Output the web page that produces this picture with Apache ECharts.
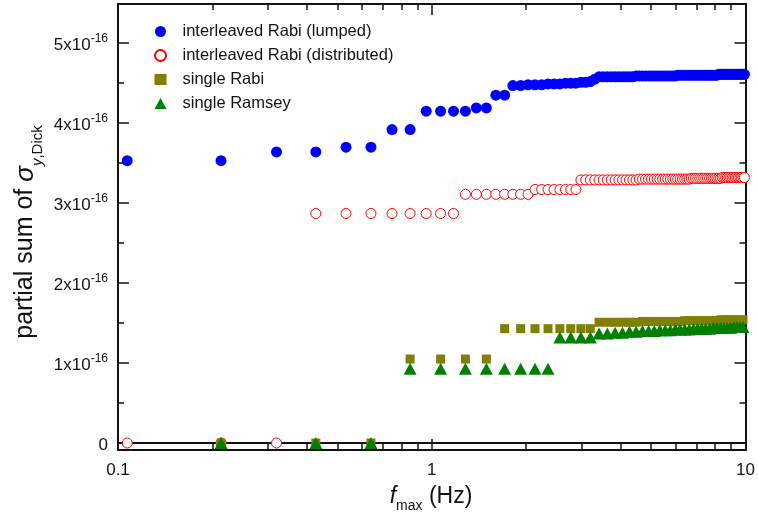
<!DOCTYPE html>
<html>
<head>
<meta charset="utf-8">
<script src="https://cdn.jsdelivr.net/npm/echarts@6/dist/echarts.min.js"></script>
<style>
  html, body { margin: 0; padding: 0; background: #ffffff; }
  #chart { width: 758px; height: 522px; }
</style>
</head>
<body>
<div id="chart"></div>
<script>
// Fourier frequencies (Hz) at which the partial sums are evaluated
const freqAll = [
  0.107, 0.213, 0.320, 0.427, 0.533, 0.640, 0.747, 0.853, 0.960, 1.067,
  1.173, 1.280, 1.387, 1.493, 1.600, 1.707, 1.813, 1.920, 2.027, 2.133,
  2.240, 2.347, 2.453, 2.560, 2.667, 2.773, 2.880, 2.987, 3.093, 3.200,
  3.307, 3.413, 3.520, 3.627, 3.733, 3.840, 3.947, 4.053, 4.160, 4.267,
  4.373, 4.480, 4.587, 4.693, 4.800, 4.907, 5.013, 5.120, 5.227, 5.333,
  5.440, 5.547, 5.653, 5.760, 5.867, 5.973, 6.080, 6.187, 6.293, 6.400,
  6.507, 6.613, 6.720, 6.827, 6.933, 7.040, 7.147, 7.253, 7.360, 7.467,
  7.573, 7.680, 7.787, 7.893, 8.000, 8.107, 8.213, 8.320, 8.427, 8.533,
  8.640, 8.747, 8.853, 8.960, 9.067, 9.173, 9.280, 9.387, 9.493, 9.600,
  9.707, 9.813, 9.920
];
// single-clock sequences only contribute at even harmonics
const freqEven = [
  0.213, 0.427, 0.640, 0.853, 1.067, 1.280, 1.493, 1.707, 1.920, 2.133,
  2.347, 2.560, 2.773, 2.987, 3.200, 3.413, 3.627, 3.840, 4.053, 4.267,
  4.480, 4.693, 4.907, 5.120, 5.333, 5.547, 5.760, 5.973, 6.187, 6.400,
  6.613, 6.827, 7.040, 7.253, 7.467, 7.680, 7.893, 8.107, 8.320, 8.533,
  8.747, 8.960, 9.173, 9.387, 9.600, 9.813
];

// partial sums of sigma_y,Dick, in units of 1e-16
const lumped = [
  3.53, 3.53, 3.64, 3.64, 3.70, 3.70, 3.92, 3.92, 4.15, 4.15,
  4.15, 4.15, 4.19, 4.19, 4.35, 4.35, 4.47, 4.47, 4.48, 4.48,
  4.48, 4.49, 4.49, 4.49, 4.50, 4.50, 4.50, 4.51, 4.51, 4.52,
  4.55, 4.58, 4.58, 4.58, 4.58, 4.58, 4.58, 4.58, 4.58, 4.58,
  4.58, 4.59, 4.59, 4.59, 4.59, 4.59, 4.59, 4.59, 4.59, 4.59,
  4.59, 4.59, 4.59, 4.59, 4.59, 4.59, 4.60, 4.60, 4.60, 4.60,
  4.60, 4.60, 4.60, 4.60, 4.60, 4.60, 4.60, 4.60, 4.60, 4.60,
  4.60, 4.60, 4.60, 4.60, 4.60, 4.60, 4.61, 4.61, 4.61, 4.61,
  4.61, 4.61, 4.61, 4.61, 4.61, 4.61, 4.61, 4.61, 4.61, 4.61,
  4.61, 4.61, 4.61
];
const distributed = [
  0.00, 0.00, 0.00, 2.87, 2.87, 2.87, 2.87, 2.87, 2.87, 2.87,
  2.87, 3.11, 3.11, 3.11, 3.11, 3.11, 3.11, 3.11, 3.11, 3.17,
  3.17, 3.17, 3.17, 3.17, 3.17, 3.17, 3.17, 3.29, 3.29, 3.29,
  3.29, 3.29, 3.29, 3.29, 3.29, 3.29, 3.29, 3.29, 3.29, 3.29,
  3.29, 3.29, 3.30, 3.30, 3.30, 3.30, 3.30, 3.30, 3.30, 3.30,
  3.30, 3.30, 3.30, 3.30, 3.30, 3.30, 3.30, 3.30, 3.30, 3.30,
  3.30, 3.30, 3.31, 3.31, 3.31, 3.31, 3.31, 3.31, 3.31, 3.31,
  3.31, 3.31, 3.31, 3.31, 3.31, 3.31, 3.31, 3.31, 3.32, 3.32,
  3.32, 3.32, 3.32, 3.32, 3.32, 3.32, 3.32, 3.32, 3.32, 3.32,
  3.32, 3.32, 3.32
];
const singleRabi = [
  0.00, 0.00, 0.00, 1.05, 1.05, 1.05, 1.05, 1.43, 1.43, 1.43,
  1.43, 1.43, 1.43, 1.43, 1.43, 1.51, 1.51, 1.51, 1.51, 1.51,
  1.51, 1.52, 1.52, 1.52, 1.52, 1.52, 1.52, 1.52, 1.52, 1.53,
  1.53, 1.53, 1.53, 1.53, 1.53, 1.53, 1.53, 1.53, 1.54, 1.54,
  1.54, 1.54, 1.54, 1.54, 1.54, 1.54
];
const singleRamsey = [
  0.00, 0.00, 0.00, 0.93, 0.93, 0.93, 0.93, 0.93, 0.93, 0.93,
  0.93, 1.32, 1.32, 1.32, 1.32, 1.37, 1.37, 1.38, 1.38, 1.39,
  1.39, 1.40, 1.40, 1.40, 1.41, 1.41, 1.41, 1.42, 1.42, 1.42,
  1.42, 1.43, 1.43, 1.43, 1.43, 1.43, 1.44, 1.44, 1.44, 1.44,
  1.44, 1.44, 1.45, 1.45, 1.45, 1.45
];

const seriesNames = [
  'interleaved Rabi (lumped)',
  'interleaved Rabi (distributed)',
  'single Rabi',
  'single Ramsey'
];

// axis ticks
const xMajorTicks = [0.1, 1, 10];
const xMinorTicks = [0.2, 0.3, 0.4, 0.5, 0.6, 0.7, 0.8, 0.9, 2, 3, 4, 5, 6, 7, 8, 9];
const yMajorTicks = [0, 1, 2, 3, 4, 5];
const yMinorTicks = [0.5, 1.5, 2.5, 3.5, 4.5];
const xRange = [0.1, 10];
const yRange = [-0.0875, 5.49];

const FONT = 'Liberation Sans, Arial, sans-serif';
const INK = '#111111';

function pairs(xs, ys) {
  return xs.map((x, i) => [x, ys[i]]);
}

function xAxisDef(position, ticks, len, showLine, showLabels) {
  return {
    type: 'log',
    logBase: 10,
    min: xRange[0],
    max: xRange[1],
    position: position,
    axisLine: { show: showLine, onZero: false, lineStyle: { color: INK, width: 2 } },
    axisTick: { show: true, inside: true, length: len, customValues: ticks,
                lineStyle: { color: INK, width: 1.5 } },
    axisLabel: {
      show: showLabels,
      customValues: ticks,
      margin: 12,
      color: INK,
      fontFamily: FONT,
      fontSize: 17,
      formatter: v => (v < 1 ? v.toFixed(1) : String(Math.round(v)))
    },
    splitLine: { show: false },
    minorTick: { show: false }
  };
}

function yAxisDef(position, ticks, len, showLine, showLabels) {
  return {
    type: 'value',
    min: yRange[0],
    max: yRange[1],
    position: position,
    axisLine: { show: showLine, onZero: false, lineStyle: { color: INK, width: 2 } },
    axisTick: { show: true, inside: true, length: len, customValues: ticks,
                lineStyle: { color: INK, width: 1.5 } },
    axisLabel: {
      show: showLabels,
      customValues: ticks,
      margin: 10,
      color: INK,
      fontFamily: FONT,
      formatter: v => (v === 0 ? '{m|0}' : '{m|' + v + 'x10}{s|-16}'),
      rich: {
        m: { fontSize: 17, fontFamily: FONT, color: INK, lineHeight: 21, verticalAlign: 'bottom' },
        s: { fontSize: 12, fontFamily: FONT, color: INK, lineHeight: 12, verticalAlign: 'top' }
      }
    },
    splitLine: { show: false }
  };
}

const chart = echarts.init(document.getElementById('chart'), null, { renderer: 'canvas' });

chart.setOption({
  animation: false,
  backgroundColor: '#ffffff',
  grid: { left: 118, right: 10, top: 4, bottom: 72, containLabel: false },
  xAxis: [
    xAxisDef('bottom', xMajorTicks, 11, true, true),
    xAxisDef('bottom', xMinorTicks, 7, false, false),
    xAxisDef('top', xMajorTicks, 11, true, false),
    xAxisDef('top', xMinorTicks, 6, false, false)
  ],
  yAxis: [
    yAxisDef('left', yMajorTicks, 11, true, true),
    yAxisDef('left', yMinorTicks, 6, false, false),
    yAxisDef('right', yMajorTicks, 11, true, false),
    yAxisDef('right', yMinorTicks, 6, false, false)
  ],
  legend: {
    orient: 'vertical',
    left: 154,
    top: 23,
    padding: 0,
    itemWidth: 12,
    itemHeight: 11,
    itemGap: 7,
    data: seriesNames,
    textStyle: { fontFamily: FONT, fontSize: 16.5, color: INK, padding: [0, 0, 0, 11] }
  },
  graphic: [
    {
      type: 'text',
      x: 29,
      y: 232,
      rotation: Math.PI / 2,
      style: {
        text: '{t|partial sum of }{g|σ}{si|y}{s|,Dick}',
        align: 'center',
        verticalAlign: 'middle',
        rich: {
          t: { fontFamily: FONT, fontSize: 25, fill: INK, lineHeight: 32, verticalAlign: 'top' },
          g: { fontFamily: FONT, fontStyle: 'italic', fontSize: 26, fill: INK, lineHeight: 32, verticalAlign: 'top' },
          si: { fontFamily: FONT, fontStyle: 'italic', fontSize: 15, fill: INK, lineHeight: 15, verticalAlign: 'bottom' },
          s: { fontFamily: FONT, fontSize: 15, fill: INK, lineHeight: 15, verticalAlign: 'bottom' }
        }
      }
    },
    {
      type: 'text',
      x: 431,
      y: 499,
      style: {
        text: '{i|f}{s|max}{t| (Hz)}',
        align: 'center',
        verticalAlign: 'middle',
        rich: {
          i: { fontFamily: FONT, fontStyle: 'italic', fontSize: 23, fill: INK, lineHeight: 28, verticalAlign: 'top' },
          s: { fontFamily: FONT, fontSize: 14, fill: INK, lineHeight: 14, verticalAlign: 'bottom' },
          t: { fontFamily: FONT, fontSize: 23, fill: INK, lineHeight: 28, verticalAlign: 'top' }
        }
      }
    }
  ],
  series: [
    {
      // horizontal reference line at zero
      type: 'line',
      name: 'zero',
      data: [[xRange[0], 0], [xRange[1], 0]],
      symbol: 'none',
      silent: true,
      z: 1,
      lineStyle: { color: INK, width: 2 },
      tooltip: { show: false }
    },
    {
      type: 'scatter',
      name: seriesNames[0],
      data: pairs(freqAll, lumped),
      symbol: 'circle',
      symbolSize: 11,
      itemStyle: { color: '#0000ff', opacity: 1 },
      z: 3
    },
    {
      type: 'scatter',
      name: seriesNames[1],
      data: pairs(freqAll, distributed),
      symbol: 'circle',
      symbolSize: 10,
      itemStyle: { color: '#ffffff', borderColor: '#ff0000', borderWidth: 1, opacity: 1 },
      z: 3
    },
    {
      type: 'scatter',
      name: seriesNames[2],
      data: pairs(freqEven, singleRabi),
      symbol: 'rect',
      symbolSize: 9,
      itemStyle: { color: '#808000', opacity: 1 },
      z: 3
    },
    {
      type: 'scatter',
      name: seriesNames[3],
      data: pairs(freqEven, singleRamsey),
      symbol: 'triangle',
      symbolSize: [13, 12],
      itemStyle: { color: '#008000', opacity: 1 },
      z: 3
    }
  ]
});
</script>
</body>
</html>
